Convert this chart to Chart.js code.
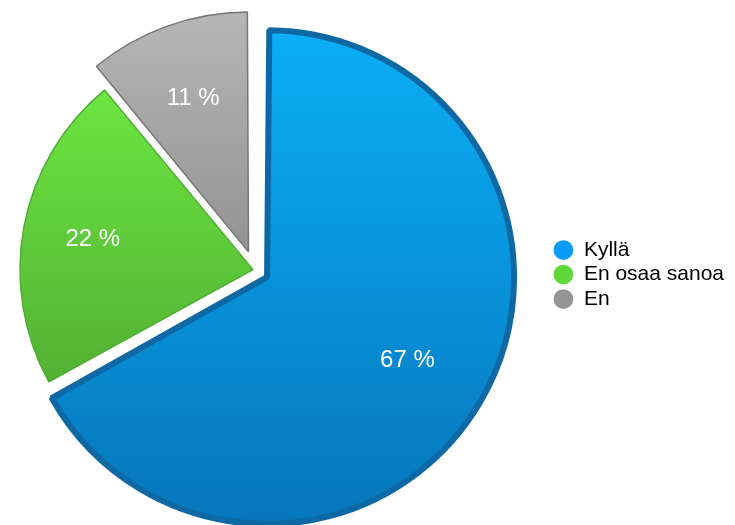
<!DOCTYPE html>
<html>
<head>
<meta charset="utf-8">
<script src="https://cdn.jsdelivr.net/npm/chart.js@4/dist/chart.umd.min.js"></script>
<style>
  body { margin: 0; background: #ffffff; }
  #wrap { width: 735px; height: 525px; }
</style>
</head>
<body>
<div id="wrap"><canvas id="myChart" width="735" height="525"></canvas></div>
<script>
// data
var labels = ['Kyllä', 'En osaa sanoa', 'En'];
var shares = [67, 22, 11];

// styling per slice
var legendColors = ['#0a9cf5', '#5fd93a', '#959595'];
var topColors = ['#0bb2fa', '#74f645', '#bababa'];
var bottomColors = ['#0675bb', '#46972d', '#6f6f6f'];
var rimColors = ['#0d68a3', '#4fae32', '#767676'];
var rimWidths = [6, 1.5, 1.5];
var sliceOffsets = [56, 8, 77];

var pieCenterX = 255;

function sliceFill(context) {
	var i = context.dataIndex;
	if (!context.chart.chartArea) return legendColors[i];
	var g = context.chart.ctx.createLinearGradient(0, 0, 0, 525);
	g.addColorStop(0, topColors[i]);
	g.addColorStop(1, bottomColors[i]);
	return g;
}

// pull the pie left of where the legend would put it
var movePie = {
	id: 'movePie',
	afterLayout: function(chart) {
		var area = chart.chartArea;
		area.left = 2 * pieCenterX - area.right;
		area.width = area.right - area.left;
	}
};

// percent texts inside the slices
var percentLabels = {
	id: 'percentLabels',
	afterDatasetsDraw: function(chart) {
		var ctx = chart.ctx;
		var meta = chart.getDatasetMeta(0);
		ctx.save();
		ctx.font = '24px "Liberation Sans", Arial, sans-serif';
		ctx.fillStyle = '#ffffff';
		ctx.textAlign = 'center';
		ctx.textBaseline = 'middle';
		meta.data.forEach(function(arc, i) {
			var mid = (arc.startAngle + arc.endAngle) / 2;
			var dist = sliceOffsets[i] / 4 + arc.outerRadius * 0.7;
			ctx.fillText(shares[i] + ' %', arc.x + Math.cos(mid) * dist, arc.y + Math.sin(mid) * dist);
		});
		ctx.restore();
	}
};

window.onload = function() {
	var ctx = document.getElementById('myChart').getContext('2d');
	new Chart(ctx, {
		type: 'pie',
		data: {
			labels: labels,
			datasets: [{
				data: shares,
				backgroundColor: sliceFill,
				borderColor: rimColors,
				borderWidth: rimWidths,
				offset: sliceOffsets,
				radius: 233
			}]
		},
		options: {
			responsive: false,
			devicePixelRatio: 1,
			animation: false,
			layout: { padding: { left: 0, right: 1, top: 15, bottom: 0 } },
			plugins: {
				tooltip: { enabled: false },
				legend: {
					position: 'right',
					title: { display: true, text: '', font: { size: 1 }, padding: { top: 8, bottom: 0 } },
					labels: {
						usePointStyle: true,
						boxWidth: 20,
						boxHeight: 14,
						padding: 3.5,
						color: '#000000',
						font: { family: '"Liberation Sans", Arial, sans-serif', size: 21 },
						generateLabels: function(chart) {
							return labels.map(function(text, i) {
								return {
									text: text,
									fillStyle: legendColors[i],
									strokeStyle: legendColors[i],
									fontColor: '#000000',
									lineWidth: 0,
									pointStyle: 'circle',
									hidden: false,
									index: i
								};
							});
						}
					}
				}
			}
		},
		plugins: [movePie, percentLabels]
	});
};
</script>
</body>
</html>
